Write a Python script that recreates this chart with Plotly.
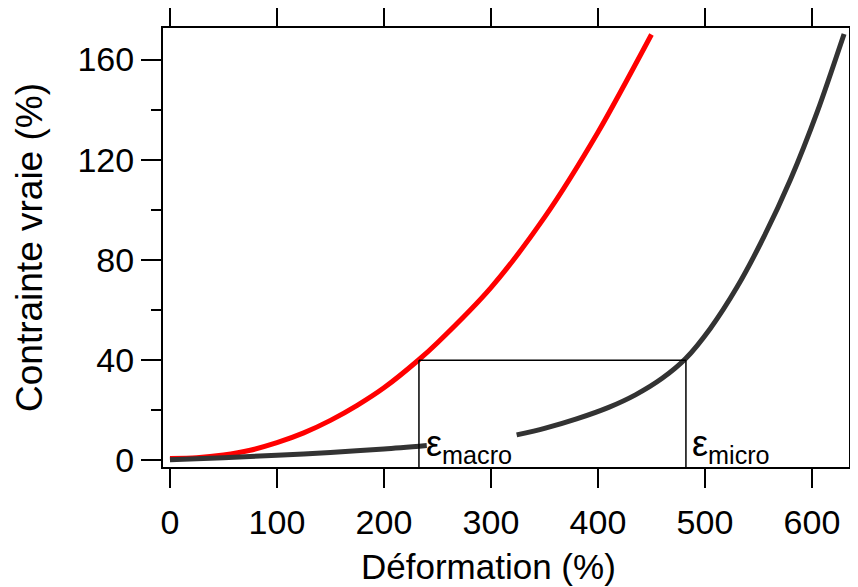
import plotly.graph_objects as go

# Data
red_x = [0, 25, 50, 75, 100, 125, 150, 175, 200, 232, 250, 300, 350, 400, 450]
red_y = [0.8, 1.1, 2.2, 4.1, 7.1, 11.0, 16.0, 22.0, 29.0, 40.0, 47.0, 69.0, 97.0, 131.0, 170.0]

black1_x = [0, 50, 100, 150, 200, 240]
black1_y = [0.3, 1.1, 2.1, 3.2, 4.6, 6.0]

black2_x = [324, 350, 380, 410, 435, 460, 482, 505, 530, 555, 580, 605, 630]
black2_y = [10.2, 12.8, 16.6, 21.2, 26.2, 32.8, 40.7, 52.7, 69.2, 89.2, 112.2, 139.2, 170.2]

eps_macro = 232.7
eps_micro = 482.2
stress_level = 40

x_ticks = [0, 100, 200, 300, 400, 500, 600]
y_ticks = [0, 40, 80, 120, 160]

x_title = "Déformation (%)"
y_title = "Contrainte vraie (%)"

FONT = "Liberation Sans, Arial, sans-serif"
OFF = 8  # default page body margin
W, H = 858 - OFF, 587 - OFF
L, R, T, B = 163 - OFF, 9, 28 - OFF, 120
PW, PH = W - L - R, H - T - B

def px(xp):  # page pixel -> paper
    return (xp - OFF - L) / PW

def py(yp):
    return (H - B - (yp - OFF)) / PH

fig = go.Figure()
fig.add_trace(go.Scatter(x=red_x, y=red_y, mode="lines",
                         line=dict(color="#ff0000", width=5, shape="spline", smoothing=0.8),
                         showlegend=False, hoverinfo="skip"))
fig.add_trace(go.Scatter(x=black1_x, y=black1_y, mode="lines",
                         line=dict(color="#333333", width=5, shape="spline", smoothing=0.8),
                         showlegend=False, hoverinfo="skip"))
fig.add_trace(go.Scatter(x=black2_x, y=black2_y, mode="lines",
                         line=dict(color="#333333", width=5, shape="spline", smoothing=0.8),
                         showlegend=False, hoverinfo="skip"))
# invisible trace for right axis
fig.add_trace(go.Scatter(x=[None], y=[None], yaxis="y2", showlegend=False))

yr = [-2.6, 172.6]
ln = dict(color="black", width=1.5)
fig.add_shape(type="line", x0=eps_macro, x1=eps_macro, y0=stress_level, y1=yr[0],
              xref="x", yref="y", line=ln)
fig.add_shape(type="line", x0=eps_macro, x1=eps_micro, y0=stress_level, y1=stress_level,
              xref="x", yref="y", line=ln)
fig.add_shape(type="line", x0=eps_micro, x1=eps_micro, y0=stress_level, y1=yr[0],
              xref="x", yref="y", line=ln)

fig.update_layout(
    width=W, height=H,
    margin=dict(l=L, r=R, t=T, b=B, autoexpand=False),
    paper_bgcolor="white", plot_bgcolor="white",
    font=dict(family=FONT, size=34, color="black"),
    xaxis=dict(range=[-6.5, 634.6], tickvals=x_ticks, ticks="outside", ticklen=19,
               tickwidth=2, tickcolor="black", showline=True, linewidth=2,
               linecolor="black", mirror="ticks", showgrid=False, zeroline=False,
               tickfont=dict(size=34), ticklabelstandoff=5, automargin=False),
    yaxis=dict(range=yr, tickvals=y_ticks, ticks="outside", ticklen=20,
               tickwidth=2, tickcolor="black", showline=True, linewidth=2,
               linecolor="black", mirror=True, showgrid=False, zeroline=False,
               tickfont=dict(size=34), automargin=False,
               minor=dict(dtick=20, ticks="outside", ticklen=10, tickwidth=2,
                          tickcolor="black", showgrid=False)),
    yaxis2=dict(range=yr, overlaying="y", side="right", dtick=20, tick0=0,
                ticks="outside", ticklen=8, tickwidth=2, tickcolor="black",
                showticklabels=False, showgrid=False, zeroline=False, showline=False,
                automargin=False),
    annotations=[
        dict(text=x_title, x=px(488), y=py(566), xref="paper", yref="paper",
             showarrow=False, xanchor="center", yanchor="middle",
             font=dict(size=35)),
        dict(text=y_title, x=px(30), y=py(248), xref="paper", yref="paper",
             showarrow=False, xanchor="center", yanchor="middle", textangle=-90,
             font=dict(size=37)),
        dict(text="ε<sub>macro</sub>", x=px(424), y=py(446), xref="paper", yref="paper",
             showarrow=False, xanchor="left", yanchor="middle",
             font=dict(size=36)),
        dict(text="ε<sub>micro</sub>", x=px(690), y=py(446), xref="paper", yref="paper",
             showarrow=False, xanchor="left", yanchor="middle",
             font=dict(size=36)),
    ],
)

fig.write_html("out.html")
